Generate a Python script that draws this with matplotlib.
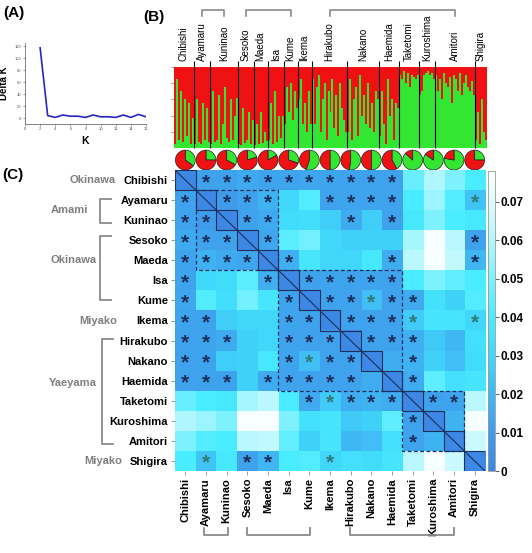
import numpy as np
import matplotlib
matplotlib.use('Agg')
import matplotlib.pyplot as plt
from matplotlib.colors import LinearSegmentedColormap
from matplotlib.patches import Rectangle
from matplotlib import transforms

plt.rcParams['font.family'] = ['Liberation Sans', 'DejaVu Sans']

# (A) Delta K by K
k_values = [2, 3, 4, 5, 6, 7, 8, 9, 10, 11, 12, 13, 14, 15, 16]
delta_k = [117, 4, 1, 5, 3, 3, 1, 5, 2, 2, 1, 5, 1, 6, 2]

# populations
pops = ['Chibishi', 'Ayamaru', 'Kuninao', 'Sesoko', 'Maeda', 'Isa', 'Kume', 'Ikema',
        'Hirakubo', 'Nakano', 'Haemida', 'Taketomi', 'Kuroshima', 'Amitori', 'Shigira']

# (B) green cluster membership of each individual, per population
q_green = [
    [0.05, 0.85, 0.10, 0.70, 0.08, 0.60, 0.15, 0.55, 0.05, 0.37],
    [0.05, 0.60, 0.08, 0.05, 0.55, 0.10, 0.50, 0.07],
    [0.05, 0.70, 0.08, 0.10, 0.65, 0.05, 0.30, 0.75, 0.12, 0.08, 0.60, 0.10, 0.40, 0.62],
    [0.05, 0.04, 0.50, 0.06, 0.10, 0.45, 0.05, 0.35],
    [0.04, 0.30, 0.05, 0.45, 0.06, 0.20, 0.09],
    [0.10, 0.55, 0.05, 0.70, 0.08, 0.40, 0.12, 0.40],
    [0.30, 0.75, 0.45, 0.80, 0.35, 0.70, 0.50],
    [0.60, 0.85, 0.30, 0.55, 0.20, 0.70, 0.30],
    [0.85, 0.30, 0.75, 0.90, 0.20, 0.60, 0.80, 0.10, 0.70, 0.45, 0.85, 0.25, 0.65, 0.15,
     0.80, 0.50, 0.35, 0.20],
    [0.20, 0.85, 0.10, 0.60, 0.75, 0.15, 0.90, 0.40, 0.65, 0.30, 0.80, 0.25, 0.55, 0.20,
     0.70, 0.60],
    [0.15, 0.70, 0.30, 0.05, 0.85, 0.40, 0.60, 0.10, 0.55, 0.50],
    [0.90, 0.85, 0.95, 0.80, 0.92, 0.75, 0.90, 0.88, 0.85, 0.90],
    [0.65, 0.70, 0.90, 0.92, 0.95, 0.90, 0.93, 0.85],
    [0.90, 0.70, 0.85, 0.60, 0.92, 0.80, 0.75, 0.88, 0.55, 0.90, 0.85, 0.70, 0.92, 0.65,
     0.80, 0.90, 0.75, 0.70, 0.83, 0.65],
    [0.10, 0.45, 0.05, 0.60, 0.20, 0.10],
]

# (C) pairwise Fst, upper triangle rows (row i holds columns i+1..14)
fst_upper = [
    [.012, .012, .015, .013, .013, .014, .013, .012, .012, .012, .046, .060, .050, .040],
    [.010, .012, .018, .031, .042, .012, .013, .013, .012, .040, .056, .042, .024],
    [.012, .015, .032, .033, .027, .016, .027, .012, .038, .050, .040, .038],
    [.014, .043, .048, .030, .028, .028, .028, .058, .076, .062, .012],
    [.017, .037, .030, .030, .038, .016, .062, .076, .064, .020],
    [.012, .013, .012, .013, .012, .040, .050, .045, .040],
    [.012, .012, .022, .012, .015, .035, .028, .042],
    [.012, .012, .012, .026, .036, .036, .030],
    [.012, .012, .017, .025, .020, .034],
    [.016, .018, .028, .022, .032],
    [.016, .044, .034, .036],
    [.012, .013, .062],
    [.018, .076],
    [.066],
]
# significant pairs (row, columns)
signif = {
    0: [1, 2, 3, 4, 5, 6, 7, 8, 9, 10],
    1: [2, 3, 4, 7, 8, 9, 10, 14],
    2: [3, 4, 8, 10],
    3: [4, 14],
    4: [5, 10, 14],
    5: [6, 7, 8, 9, 10],
    6: [7, 8, 9, 10, 11],
    7: [8, 9, 10, 11, 14],
    8: [9, 10, 11],
    9: [11],
    10: [11],
    11: [12, 13],
}
cbar_ticks = [0, 0.01, 0.02, 0.03, 0.04, 0.05, 0.06, 0.07]

W, H = 532, 553
GRAY = '#8a8a8a'
RED = '#f01212'
GREEN = '#32e632'


def box(x0, y0, x1, y1):
    return [x0 / W, 1 - y1 / H, (x1 - x0) / W, (y1 - y0) / H]


fig = plt.figure(figsize=(W / 100, H / 100), dpi=100)

# ---- (A)
axa = fig.add_axes(box(25, 43, 146, 124))
axa.plot(k_values, delta_k, color='#2626c4', lw=1.2)
axa.set_xlim(0, 16)
axa.set_ylim(-10, 125)
axa.set_xticks(range(0, 17, 2))
axa.set_yticks(range(0, 121, 20))
axa.tick_params(labelsize=3, length=1.5, width=0.4, pad=1, colors='#555555')
for s in ['top', 'right']:
    axa.spines[s].set_visible(False)
for s in ['left', 'bottom']:
    axa.spines[s].set_linewidth(0.5)
    axa.spines[s].set_color('#555555')
axa.set_ylabel('Delta K', fontsize=7, fontweight='bold', labelpad=4)
axa.set_xlabel('K', fontsize=7.5, fontweight='bold', labelpad=3)

# ---- (B)
axb = fig.add_axes(box(174, 67, 487, 148))
counts = [len(q) for q in q_green]
bounds = np.concatenate([[0], np.cumsum(counts)])
all_q = np.concatenate(q_green)
xs = np.arange(len(all_q)) + 0.5
axb.bar(xs, all_q, width=1.0, color=GREEN, linewidth=0)
axb.bar(xs, 1 - all_q, bottom=all_q, width=1.0, color=RED, linewidth=0)
axb.set_xlim(0, bounds[-1])
axb.set_ylim(0, 1)
axb.vlines(bounds[1:-1], 0, 1.07, color='k', lw=0.8, clip_on=False)
centers = (bounds[:-1] + bounds[1:]) / 2
for c, name in zip(centers, pops):
    axb.text(c, 1.08, name, rotation=90, ha='center', va='bottom', fontsize=7)
axb.set_xticks([])
axb.set_yticks([0.2, 0.4, 0.6, 0.8, 1.0])
axb.set_yticklabels([])
axb.tick_params(axis='y', length=2, width=0.5, colors='#777777')
for s in axb.spines.values():
    s.set_visible(False)

tb = transforms.blended_transform_factory(axb.transData, fig.transFigure)
for a, b in [(1, 2), (3, 6), (8, 13)]:
    x0, x1 = centers[a], centers[b]
    y0, y1 = 1 - 16 / H, 1 - 10 / H
    axb.plot([x0, x0, x1, x1], [y0, y1, y1, y0], color=GRAY, lw=1.2,
             transform=tb, clip_on=False)

# pies of population means
axp = fig.add_axes(box(175, 149, 485, 171))
for i, q in enumerate(q_green):
    g = float(np.mean(q))
    axp.pie([g, 1 - g], colors=[GREEN, RED], startangle=90, counterclock=False,
            center=(i + 0.5, 0.53), radius=0.48,
            wedgeprops=dict(edgecolor='#222222', linewidth=0.5))
axp.set_xlim(0, 15)
axp.set_ylim(0, 15 * 22 / 310)
axp.set_aspect('equal')
axp.axis('off')

# ---- (C)
n = len(pops)
fst = np.zeros((n, n))
for i, row in enumerate(fst_upper):
    for k, v in enumerate(row):
        j = i + 1 + k
        fst[i, j] = v
        fst[j, i] = v

cmap = LinearSegmentedColormap.from_list('fst', [
    (0.0, '#3c88e4'), (0.01 / 0.078, '#3f9dec'), (0.02 / 0.078, '#40b8f4'),
    (0.03 / 0.078, '#40d8fb'), (0.04 / 0.078, '#4aecff'), (0.05 / 0.078, '#7ef1ff'),
    (0.06 / 0.078, '#b0f7ff'), (0.07 / 0.078, '#dcfcff'), (1.0, '#ffffff')])

axc = fig.add_axes(box(175, 170, 485, 471))
im = axc.imshow(fst, cmap=cmap, vmin=0, vmax=0.078, aspect='auto')

# asterisks for significant pairs (both halves of the matrix)
for i, cols in signif.items():
    for j in cols:
        for (r, c) in [(i, j), (j, i)]:
            col = '#1d2f5c' if fst[r, c] < 0.022 else '#2f7a74'
            axc.text(c, r + 0.12, '*', ha='center', va='center', fontsize=15,
                     fontweight='bold', color=col)

LINE = '#1d2f5c'
for i in range(n):
    axc.add_patch(Rectangle((i - 0.5, i - 0.5), 1, 1, fill=False, ec=LINE, lw=0.8))
axc.plot([-0.5, n - 0.5], [-0.5, n - 0.5], color=LINE, lw=0.8)
for a, b in [(1, 4), (5, 10), (11, 13)]:
    axc.add_patch(Rectangle((a - 0.5, a - 0.5), b - a + 1, b - a + 1, fill=False,
                            ec=LINE, lw=0.9, ls=(0, (3, 2))))
axc.set_xlim(-0.5, n - 0.5)
axc.set_ylim(n - 0.5, -0.5)
axc.set_xticks(range(n))
axc.set_yticks(range(n))
axc.set_xticklabels(pops, rotation=90, fontsize=8, fontweight='bold')
axc.set_yticklabels(pops, fontsize=8, fontweight='bold')
axc.tick_params(length=3, width=0.6, color='#888888', pad=2)
for s in axc.spines.values():
    s.set_visible(False)

# island groups on the left
tl = transforms.blended_transform_factory(fig.transFigure, axc.transData)
groups = [('Okinawa', 116, 0), ('Amami', 88, 1.5), ('Okinawa', 97, 4.0),
          ('Miyako', 117, 7), ('Yaeyama', 97, 10.1), ('Miyako', 122, 14)]
for name, xr, row in groups:
    axc.text(xr / W, row, name, transform=tl, ha='right', va='center',
             fontsize=8, fontweight='bold', color='#7f7f7f')
for r0, r1, xv in [(0.95, 2.15, 100), (2.8, 6.0, 100), (7.9, 13.15, 102)]:
    axc.plot([(xv + 11) / W, xv / W, xv / W, (xv + 11) / W], [r0, r0, r1, r1],
             color=GRAY, lw=1.3, transform=tl, clip_on=False)

# brackets under the columns
tbt = transforms.blended_transform_factory(axc.transData, fig.transFigure)
for c0, c1 in [(0.92, 2.08), (3.0, 6.04), (7.97, 13.0)]:
    y0, y1 = 1 - 528 / H, 1 - 535 / H
    axc.plot([c0, c0, c1, c1], [y0, y1, y1, y0], color=GRAY, lw=1.3,
             transform=tbt, clip_on=False)

# colour bar
cax = fig.add_axes(box(488, 171, 495, 471))
cb = fig.colorbar(im, cax=cax, ticks=cbar_ticks)
cb.ax.set_yticklabels(['0', '0.01', '0.02', '0.03', '0.04', '0.05', '0.06', '0.07'],
                      fontsize=8.5, fontweight='bold')
cb.ax.tick_params(length=3, width=0.6, color='#444444', pad=1)
cb.outline.set_edgecolor('#999999')
cb.outline.set_linewidth(0.6)

# panel letters
fig.text(3 / W, 1 - 13 / H, '(A)', fontsize=11, fontweight='bold', va='center')
fig.text(143 / W, 1 - 17 / H, '(B)', fontsize=11, fontweight='bold', va='center')
fig.text(2 / W, 1 - 175 / H, '(C)', fontsize=11, fontweight='bold', va='center')

fig.savefig('out.png', dpi=100)
